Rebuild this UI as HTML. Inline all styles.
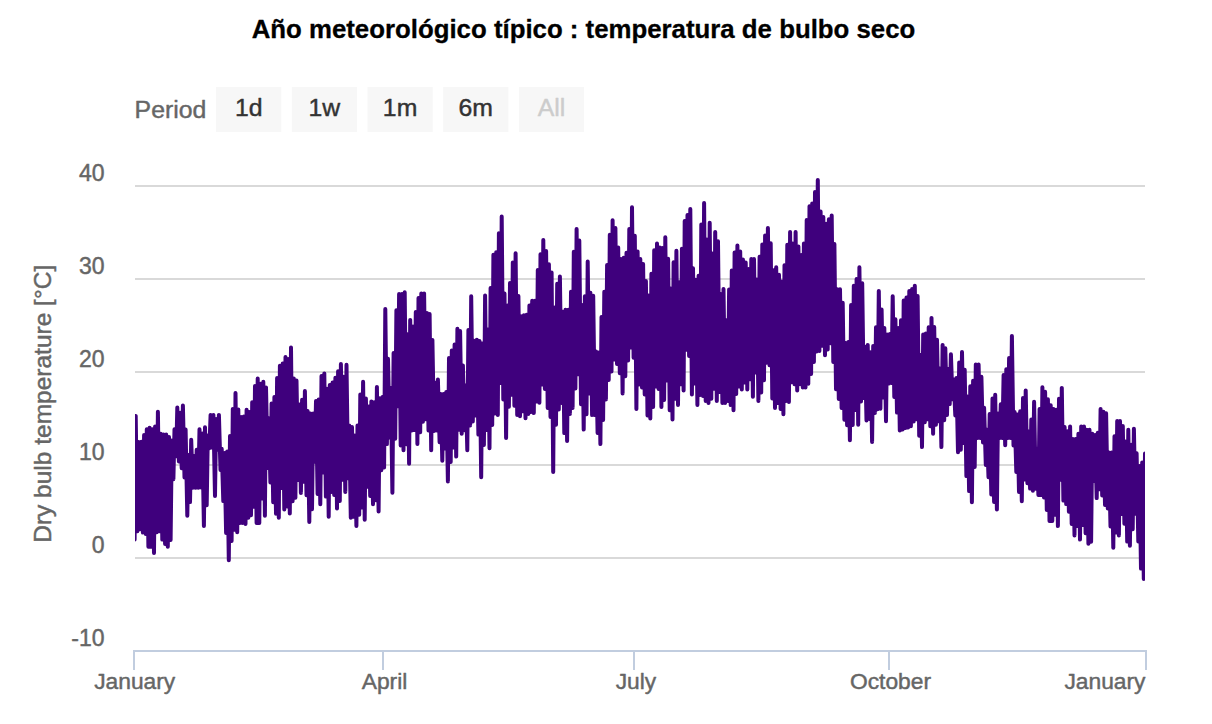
<!DOCTYPE html>
<html><head><meta charset="utf-8"><title>Año meteorológico típico</title>
<style>
html,body{margin:0;padding:0;background:#fff;width:1212px;height:724px;overflow:hidden}
svg{display:block;font-family:"Liberation Sans",Arial,Helvetica,sans-serif}
text{stroke-width:0.45px;stroke-linejoin:round}
.g6{fill:#666666;stroke:#666666}
.g3{fill:#333333;stroke:#333333}
.gc{fill:#cccccc;stroke:#cccccc}
.k{fill:#000000;stroke:#000000}
</style></head><body>
<svg width="1212" height="724" viewBox="0 0 1212 724">
<rect width="1212" height="724" fill="#ffffff"/>
<text x="583.5" y="37.7" text-anchor="middle" font-size="25.8" font-weight="bold" class="k" style="stroke-width:0.3px">Año meteorológico típico : temperatura de bulbo seco</text>
<g font-size="24.8">
<text x="134.6" y="118" class="g6">Period</text>
<rect x="216.1" y="87" width="65.2" height="45" fill="#f7f7f7"/>
<text x="248.7" y="115.5" text-anchor="middle" class="g3">1d</text>
<rect x="291.8" y="87" width="65.2" height="45" fill="#f7f7f7"/>
<text x="324.4" y="115.5" text-anchor="middle" class="g3">1w</text>
<rect x="367.5" y="87" width="65.2" height="45" fill="#f7f7f7"/>
<text x="400.1" y="115.5" text-anchor="middle" class="g3">1m</text>
<rect x="443.2" y="87" width="65.2" height="45" fill="#f7f7f7"/>
<text x="475.8" y="115.5" text-anchor="middle" class="g3">6m</text>
<rect x="518.9" y="87" width="65.2" height="45" fill="#f7f7f7"/>
<text x="551.5" y="115.5" text-anchor="middle" class="gc">All</text>
</g>
<g>
<rect x="135" y="185.0" width="1010" height="2" fill="#d9d9d9"/>
<rect x="135" y="278.0" width="1010" height="2" fill="#d9d9d9"/>
<rect x="135" y="371.0" width="1010" height="2" fill="#d9d9d9"/>
<rect x="135" y="464.0" width="1010" height="2" fill="#d9d9d9"/>
<rect x="135" y="557.0" width="1010" height="2" fill="#d9d9d9"/>
</g>
<g font-size="23" class="g6">
<text x="104.6" y="180.8" text-anchor="end">40</text>
<text x="104.6" y="273.8" text-anchor="end">30</text>
<text x="104.6" y="366.8" text-anchor="end">20</text>
<text x="104.6" y="459.8" text-anchor="end">10</text>
<text x="104.6" y="552.8" text-anchor="end">0</text>
<text x="104.6" y="645.8" text-anchor="end">-10</text>
</g>
<text transform="translate(51,403.8) rotate(-90)" text-anchor="middle" font-size="24.5" class="g6">Dry bulb temperature [°C]</text>
<rect x="133" y="650" width="1014" height="2" fill="#c1cddf"/>
<rect x="133" y="650" width="2" height="20" fill="#c1cddf"/>
<rect x="382" y="650" width="2" height="20" fill="#c1cddf"/>
<rect x="633" y="650" width="2" height="20" fill="#c1cddf"/>
<rect x="888" y="650" width="2" height="20" fill="#c1cddf"/>
<rect x="1145" y="650" width="2" height="20" fill="#c1cddf"/>

<g font-size="22.8" class="g6">
<text x="134.7" y="689" text-anchor="middle">January</text>
<text x="384.5" y="689" text-anchor="middle">April</text>
<text x="636.0" y="689" text-anchor="middle">July</text>
<text x="890.5" y="689" text-anchor="middle">October</text>
<text x="1145.5" y="689" text-anchor="end">January</text>
</g>
<defs><clipPath id="pc"><rect x="135" y="150" width="1010" height="500"/></clipPath></defs>
<path clip-path="url(#pc)" d="M134.6 539.5 L135.7 415.9 L137.4 531.2 L138.5 442.0 L140.1 529.3 L141.3 441.7 L142.9 532.6 L144.1 435.0 L145.7 534.0 L146.8 429.3 L148.4 546.7 L149.6 427.7 L151.2 546.7 L152.4 429.3 L154.0 553.0 L155.1 426.4 L156.8 532.2 L157.9 411.7 L159.5 531.2 L160.7 433.7 L162.3 539.6 L163.5 434.5 L165.1 544.0 L166.2 434.5 L167.8 546.7 L169.0 437.1 L170.6 540.1 L171.8 440.4 L173.4 479.2 L174.5 429.2 L176.2 456.2 L177.3 407.6 L178.9 461.5 L180.1 412.7 L181.7 468.2 L182.9 405.5 L184.5 477.4 L185.6 429.6 L187.3 515.7 L188.4 455.0 L190.0 502.1 L191.2 439.7 L192.8 487.7 L194.0 455.9 L195.6 487.7 L196.7 449.8 L198.3 487.7 L199.5 429.3 L201.1 487.4 L202.3 433.4 L203.9 526.0 L205.0 427.3 L206.7 505.2 L207.8 435.4 L209.4 448.2 L210.6 414.9 L212.2 447.4 L213.4 414.9 L215.0 496.0 L216.1 418.9 L217.8 449.8 L218.9 414.9 L220.5 469.9 L221.7 448.8 L223.3 501.1 L224.5 453.1 L226.1 533.0 L227.2 451.6 L228.8 560.2 L230.0 436.0 L231.6 541.0 L232.8 409.0 L234.4 529.8 L235.5 393.1 L237.2 532.2 L238.3 409.4 L239.9 522.9 L241.1 416.9 L242.7 522.9 L243.9 416.4 L245.5 524.0 L246.6 409.7 L248.3 517.7 L249.4 411.9 L251.0 515.3 L252.2 402.3 L253.8 506.7 L255.0 386.1 L256.6 522.9 L257.7 378.6 L259.3 522.9 L260.5 383.7 L262.1 498.6 L263.3 381.7 L264.9 515.7 L266.0 387.4 L267.7 468.0 L268.8 418.3 L270.4 482.5 L271.6 403.6 L273.2 502.2 L274.4 397.0 L276.0 513.8 L277.1 378.1 L278.8 517.7 L279.9 365.7 L281.5 487.9 L282.7 363.5 L284.3 509.5 L285.5 356.9 L287.1 506.5 L288.2 358.9 L289.8 513.6 L291.0 347.5 L292.6 501.2 L293.8 378.6 L295.4 497.8 L296.5 380.6 L298.2 479.9 L299.3 404.5 L300.9 492.9 L302.1 399.7 L303.7 481.8 L304.9 391.0 L306.5 495.2 L307.6 411.0 L309.3 521.9 L310.4 413.4 L312.0 509.2 L313.2 413.4 L314.8 461.7 L316.0 401.1 L317.6 493.9 L318.7 399.5 L320.3 504.3 L321.5 376.1 L323.1 472.6 L324.3 373.4 L325.9 496.6 L327.0 388.8 L328.7 516.7 L329.8 385.0 L331.4 492.0 L332.6 382.6 L334.2 494.9 L335.4 377.8 L337.0 508.4 L338.1 371.2 L339.8 501.1 L340.9 364.1 L342.5 479.7 L343.7 376.8 L345.3 491.9 L346.5 364.7 L348.1 478.2 L349.2 425.4 L350.8 517.7 L352.0 427.0 L353.6 516.7 L354.8 435.4 L356.4 526.0 L357.5 425.4 L359.2 514.8 L360.3 394.5 L361.9 507.5 L363.1 381.7 L364.7 519.8 L365.9 398.6 L367.5 486.8 L368.6 406.5 L370.2 496.0 L371.4 401.4 L373.0 504.3 L374.2 402.3 L375.8 500.3 L376.9 386.9 L378.6 511.5 L379.7 398.3 L381.3 470.3 L382.5 397.0 L384.1 467.5 L385.3 308.9 L386.9 444.1 L388.0 358.8 L389.7 437.6 L390.8 388.0 L392.4 492.8 L393.6 353.1 L395.2 438.8 L396.4 310.2 L398.0 406.3 L399.1 294.1 L400.7 445.6 L401.9 294.1 L403.5 450.3 L404.7 292.3 L406.3 444.2 L407.4 334.2 L409.1 463.8 L410.2 319.9 L411.8 430.4 L413.0 326.6 L414.6 430.1 L415.8 311.9 L417.4 444.1 L418.5 297.9 L420.2 432.3 L421.3 293.4 L422.9 421.8 L424.1 293.4 L425.7 419.3 L426.9 313.1 L428.5 430.5 L429.6 314.0 L431.2 450.3 L432.4 339.9 L434.0 431.0 L435.2 382.7 L436.8 430.5 L437.9 379.6 L439.6 442.3 L440.7 393.9 L442.3 460.7 L443.5 393.9 L445.1 448.6 L446.3 391.9 L447.9 481.4 L449.0 358.1 L450.7 462.0 L451.8 350.6 L453.4 447.4 L454.6 344.4 L456.2 456.6 L457.4 328.8 L459.0 429.8 L460.1 331.0 L461.7 433.8 L462.9 365.4 L464.5 430.3 L465.7 385.4 L467.3 450.3 L468.4 329.9 L470.1 425.4 L471.2 296.3 L472.8 421.5 L474.0 340.8 L475.6 415.6 L476.8 339.8 L478.4 434.6 L479.5 340.9 L481.2 477.3 L482.3 343.4 L483.9 445.0 L485.1 295.6 L486.7 430.1 L487.9 329.5 L489.5 448.3 L490.6 287.9 L492.2 425.1 L493.4 254.8 L495.0 413.4 L496.2 252.2 L497.8 415.1 L498.9 233.2 L500.6 382.9 L501.7 216.4 L503.3 399.6 L504.5 293.5 L506.1 437.9 L507.3 305.6 L508.9 406.7 L510.0 283.1 L511.7 394.8 L512.8 262.5 L514.4 405.7 L515.6 253.3 L517.2 415.1 L518.4 296.0 L520.0 416.2 L521.1 316.3 L522.7 411.2 L523.9 315.2 L525.5 418.2 L526.7 314.7 L528.3 413.9 L529.4 305.5 L531.1 412.1 L532.2 300.8 L533.8 413.1 L535.0 300.8 L536.6 401.4 L537.8 270.0 L539.4 402.7 L540.5 254.2 L542.2 384.5 L543.3 240.1 L544.9 389.0 L546.1 250.9 L547.7 408.0 L548.9 264.3 L550.5 417.0 L551.6 272.6 L553.2 472.1 L554.4 307.4 L556.0 424.7 L557.2 283.8 L558.8 409.5 L559.9 276.5 L561.6 402.9 L562.7 311.7 L564.3 433.1 L565.5 309.7 L567.1 441.0 L568.3 309.7 L569.9 413.9 L571.0 291.7 L572.6 407.9 L573.8 251.8 L575.4 388.6 L576.6 229.0 L578.2 374.2 L579.3 240.5 L581.0 404.3 L582.1 305.1 L583.7 429.6 L584.9 296.2 L586.5 414.3 L587.7 261.5 L589.3 393.4 L590.4 292.8 L592.1 415.1 L593.2 295.8 L594.8 415.1 L596.0 351.5 L597.6 433.0 L598.8 352.6 L600.4 444.1 L601.5 317.1 L603.1 420.0 L604.3 291.8 L605.9 399.4 L607.1 265.0 L608.7 379.9 L609.8 234.7 L611.5 371.4 L612.6 220.2 L614.2 359.5 L615.4 228.1 L617.0 364.1 L618.2 247.6 L619.8 373.3 L620.9 258.9 L622.6 393.4 L623.7 257.7 L625.3 376.3 L626.5 252.7 L628.1 360.6 L629.3 229.1 L630.9 347.5 L632.0 207.2 L633.6 357.8 L634.8 235.8 L636.4 409.1 L637.6 251.6 L639.2 384.4 L640.3 259.0 L642.0 387.4 L643.1 264.0 L644.7 394.5 L645.9 281.0 L647.5 415.4 L648.7 295.5 L650.3 418.5 L651.4 273.7 L653.1 407.1 L654.2 250.3 L655.8 386.4 L657.0 243.5 L658.6 389.0 L659.8 247.4 L661.4 407.1 L662.5 247.9 L664.1 399.9 L665.3 237.2 L666.9 380.5 L668.1 258.7 L669.7 410.3 L670.8 288.5 L672.5 419.5 L673.6 262.2 L675.2 398.8 L676.4 250.7 L678.0 405.0 L679.2 282.3 L680.8 384.3 L681.9 248.8 L683.6 390.5 L684.7 221.1 L686.3 349.8 L687.5 215.0 L689.1 356.1 L690.3 208.9 L691.9 394.6 L693.0 268.3 L694.6 383.4 L695.8 279.7 L697.4 405.0 L698.6 275.7 L700.2 395.1 L701.3 224.5 L703.0 396.1 L704.1 203.1 L705.7 401.0 L706.9 239.4 L708.5 402.9 L709.7 222.7 L711.3 398.8 L712.4 253.4 L714.1 388.8 L715.2 232.1 L716.8 400.9 L718.0 241.3 L719.6 392.1 L720.8 293.9 L722.4 402.9 L723.5 289.0 L725.1 402.9 L726.3 320.2 L727.9 400.9 L729.1 289.5 L730.7 405.1 L731.8 270.5 L733.5 410.2 L734.6 252.6 L736.2 394.0 L737.4 245.5 L739.0 386.5 L740.2 251.6 L741.8 389.5 L742.9 259.4 L744.6 382.4 L745.7 262.5 L747.3 389.5 L748.5 269.0 L750.1 379.2 L751.3 259.0 L752.9 396.7 L754.0 259.0 L755.6 372.4 L756.8 279.5 L758.4 400.9 L759.6 256.7 L761.2 392.4 L762.3 244.6 L764.0 380.2 L765.1 235.5 L766.7 362.8 L767.9 227.9 L769.5 365.3 L770.7 243.3 L772.3 398.4 L773.4 270.3 L775.0 408.1 L776.2 267.3 L777.8 402.9 L779.0 274.7 L780.6 409.0 L781.7 281.5 L783.4 414.3 L784.5 265.3 L786.1 400.9 L787.3 244.8 L788.9 401.9 L790.1 232.1 L791.7 382.2 L792.8 243.5 L794.5 384.2 L795.6 232.1 L797.2 390.5 L798.4 246.4 L800.0 384.3 L801.2 254.9 L802.8 387.4 L803.9 243.5 L805.5 387.4 L806.7 220.0 L808.3 383.7 L809.5 206.2 L811.1 374.0 L812.2 203.6 L813.9 362.0 L815.0 192.1 L816.6 351.6 L817.8 179.9 L819.4 351.1 L820.6 211.4 L822.2 345.7 L823.3 216.9 L825.0 355.3 L826.1 223.7 L827.7 349.5 L828.9 219.3 L830.5 343.2 L831.7 215.5 L833.3 362.0 L834.4 243.9 L836.0 389.2 L837.2 289.2 L838.8 399.0 L840.0 289.2 L841.6 408.0 L842.7 302.8 L844.4 419.7 L845.5 343.0 L847.1 425.3 L848.3 342.0 L849.9 440.2 L851.1 305.0 L852.7 425.1 L853.8 285.8 L855.5 409.9 L856.6 279.1 L858.2 424.7 L859.4 267.3 L861.0 401.6 L862.2 283.2 L863.8 398.0 L864.9 346.8 L866.5 420.5 L867.7 344.9 L869.3 419.0 L870.5 352.3 L872.1 441.9 L873.2 346.0 L874.9 412.9 L876.0 327.3 L877.6 409.3 L878.8 291.0 L880.4 408.8 L881.6 309.5 L883.2 397.5 L884.3 327.9 L886.0 421.2 L887.1 334.5 L888.7 383.6 L889.9 334.1 L891.5 382.9 L892.7 296.2 L894.3 397.0 L895.4 319.2 L897.0 412.6 L898.2 328.0 L899.8 430.5 L901.0 320.2 L902.6 429.5 L903.7 300.4 L905.4 428.1 L906.5 297.5 L908.1 427.4 L909.3 291.1 L910.9 426.2 L912.1 288.9 L913.7 421.6 L914.8 285.8 L916.5 419.2 L917.6 296.1 L919.2 435.8 L920.4 355.0 L922.0 447.1 L923.2 334.5 L924.8 422.3 L925.9 333.5 L927.5 419.3 L928.7 327.3 L930.3 426.3 L931.5 317.9 L933.1 433.7 L934.2 327.1 L935.9 424.7 L937.0 339.7 L938.6 421.3 L939.8 368.5 L941.4 447.1 L942.6 344.9 L944.2 420.2 L945.3 348.2 L947.0 415.0 L948.1 369.1 L949.7 404.1 L950.9 354.2 L952.5 399.2 L953.7 379.6 L955.3 415.5 L956.4 377.9 L958.0 452.3 L959.2 362.6 L960.8 449.8 L962.0 352.1 L963.6 442.9 L964.7 369.7 L966.4 476.1 L967.5 396.5 L969.1 491.1 L970.3 386.3 L971.9 502.2 L973.1 380.8 L974.7 467.1 L975.8 364.5 L977.4 438.0 L978.6 364.5 L980.2 438.0 L981.4 376.8 L983.0 442.5 L984.1 407.7 L985.8 464.9 L986.9 429.7 L988.5 477.2 L989.7 414.0 L991.3 494.5 L992.5 398.6 L994.1 501.9 L995.2 394.7 L996.9 509.5 L998.0 413.5 L999.6 438.0 L1000.8 404.3 L1002.4 438.0 L1003.6 375.1 L1005.2 445.3 L1006.3 369.2 L1007.9 438.0 L1009.1 358.1 L1010.7 438.0 L1011.9 336.1 L1013.5 445.4 L1014.6 412.1 L1016.3 471.9 L1017.4 414.6 L1019.0 491.9 L1020.2 411.3 L1021.8 501.2 L1023.0 398.1 L1024.6 479.5 L1025.7 390.4 L1027.4 483.2 L1028.5 431.6 L1030.1 488.6 L1031.3 419.5 L1032.9 490.8 L1034.1 401.8 L1035.7 488.8 L1036.8 448.6 L1038.4 495.0 L1039.6 409.1 L1041.2 495.0 L1042.4 387.3 L1044.0 497.4 L1045.1 391.8 L1046.8 510.0 L1047.9 399.3 L1049.5 520.9 L1050.7 405.3 L1052.3 520.9 L1053.5 409.0 L1055.1 514.7 L1056.2 409.8 L1057.9 526.1 L1059.0 398.7 L1060.6 479.7 L1061.8 387.9 L1063.4 500.6 L1064.6 427.1 L1066.2 504.1 L1067.3 431.2 L1068.9 511.7 L1070.1 426.6 L1071.7 523.9 L1072.9 439.0 L1074.5 535.4 L1075.6 439.0 L1077.3 525.9 L1078.4 433.8 L1080.0 539.6 L1081.2 426.6 L1082.8 525.1 L1084.0 426.6 L1085.6 533.3 L1086.7 429.7 L1088.4 543.7 L1089.5 429.7 L1091.1 541.7 L1092.3 433.7 L1093.9 481.1 L1095.1 434.9 L1096.7 498.1 L1097.8 432.7 L1099.4 489.2 L1100.6 409.0 L1102.2 495.5 L1103.4 411.7 L1105.0 505.0 L1106.1 413.2 L1107.8 508.4 L1108.9 452.5 L1110.5 526.4 L1111.7 452.5 L1113.3 547.8 L1114.5 436.3 L1116.1 532.4 L1117.2 421.0 L1118.9 535.4 L1120.0 421.0 L1121.6 514.1 L1122.8 426.1 L1124.4 523.7 L1125.6 441.5 L1127.2 541.6 L1128.3 429.7 L1129.9 545.8 L1131.1 444.8 L1132.7 529.2 L1133.9 428.7 L1135.5 513.8 L1136.6 453.2 L1138.3 541.5 L1139.4 466.1 L1141.0 568.6 L1142.2 462.4 L1143.8 578.9 L1145.0 453.6" fill="none" stroke="#3f007d" stroke-width="4" stroke-linejoin="round" stroke-linecap="round"/>
</svg>
</body></html>
